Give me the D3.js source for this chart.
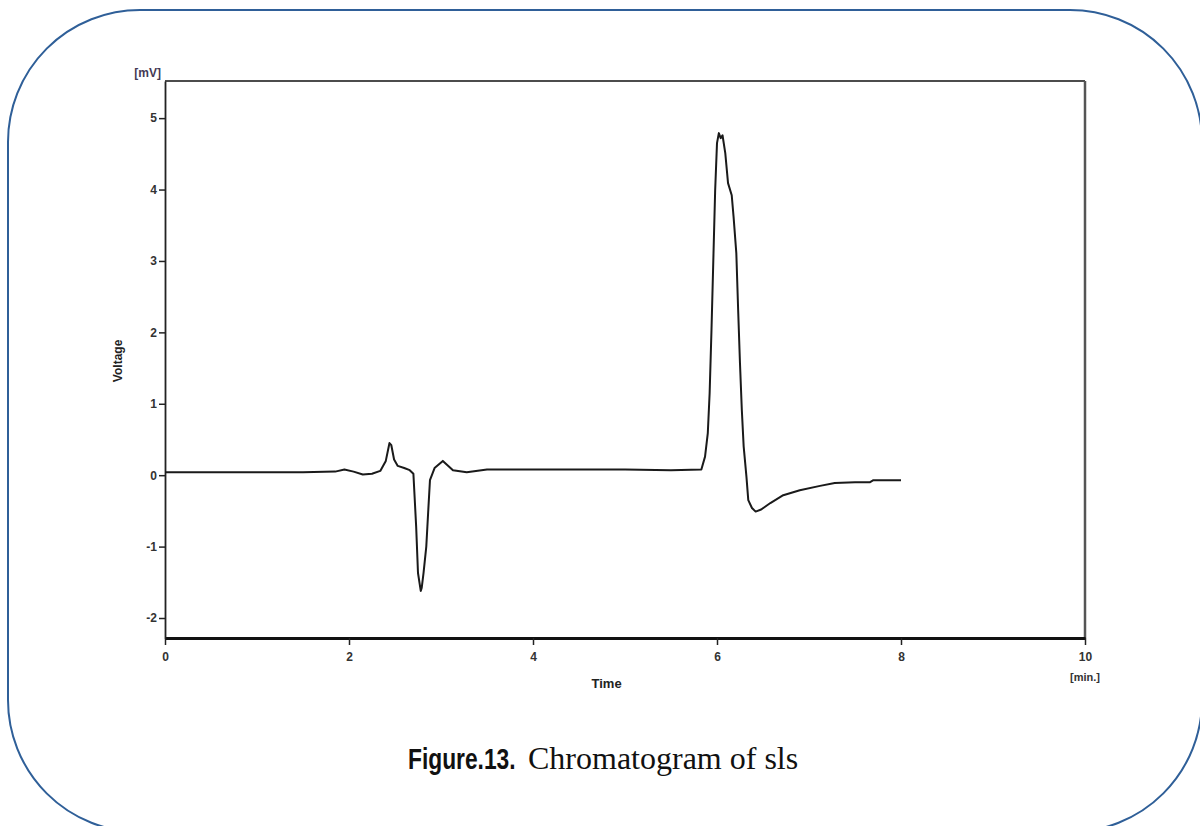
<!DOCTYPE html>
<html>
<head>
<meta charset="utf-8">
<script src="https://cdn.jsdelivr.net/npm/d3@7"></script>
<style>
  body { margin: 0; background: #fff; }
  svg text { font-family: "Liberation Sans", Arial, sans-serif; }
</style>
</head>
<body>
<div id="chart"></div>
<script>
// retention time (min) and detector voltage (mV)
var times = [0, 0.5, 1.0, 1.5, 1.85, 1.95, 2.05, 2.15, 2.25, 2.34, 2.40, 2.44, 2.46, 2.49, 2.53, 2.60, 2.66, 2.70,
  2.73, 2.75, 2.78, 2.79, 2.81, 2.84, 2.86, 2.88, 2.93, 3.02, 3.13, 3.28, 3.5, 4.0, 4.5, 5.0, 5.5, 5.83,
  5.87, 5.90, 5.92, 5.94, 5.96, 5.98, 6.00, 6.02, 6.04, 6.06, 6.09, 6.12, 6.16, 6.18, 6.21, 6.23, 6.25,
  6.27, 6.29, 6.32, 6.34, 6.38, 6.42, 6.48, 6.58, 6.72, 6.90, 7.12, 7.28, 7.5, 7.66, 7.70, 8.0];
var voltage = [0.04, 0.04, 0.04, 0.04, 0.05, 0.08, 0.05, 0.01, 0.02, 0.06, 0.2, 0.45, 0.42, 0.22, 0.13, 0.1, 0.07, 0.02,
  -0.72, -1.37, -1.62, -1.58, -1.37, -1.0, -0.53, -0.07, 0.1, 0.2, 0.07, 0.04, 0.08, 0.08, 0.08, 0.08, 0.07, 0.08,
  0.26, 0.59, 1.15, 2.03, 3.01, 3.99, 4.65, 4.79, 4.72, 4.76, 4.51, 4.09, 3.92, 3.62, 3.11, 2.31, 1.56,
  0.91, 0.4, -0.02, -0.35, -0.46, -0.51, -0.48, -0.39, -0.28, -0.21, -0.15, -0.11, -0.1, -0.1, -0.07, -0.07];

var xTicks = [0, 2, 4, 6, 8, 10];
var yTicks = [-2, -1, 0, 1, 2, 3, 4, 5];
var xDomain = [0, 10];
var yDomain = [-2.28, 5.52];

var caption = "Chromatogram of sls";
var captionBold = "Figure.13.";

var W = 1200, H = 826;
var margin = { top: 81, right: 115, bottom: 188, left: 165 },
  width = W - margin.left - margin.right,
  height = H - margin.top - margin.bottom;

var svg = d3.select("#chart").append("svg")
  .attr("width", W)
  .attr("height", H);

// rounded frame around the figure
svg.append("rect")
  .attr("x", 8).attr("y", 10)
  .attr("width", 1194).attr("height", 822)
  .attr("rx", 132).attr("ry", 132)
  .attr("fill", "none")
  .attr("stroke", "#2f5f98")
  .attr("stroke-width", 2);

var g = svg.append("g")
  .attr("transform", "translate(" + margin.left + "," + margin.top + ")");

var x = d3.scaleLinear().domain(xDomain).range([0, width]);
var y = d3.scaleLinear().domain(yDomain).range([height, 0]);

// top and right frame of the plot
g.append("line").attr("x1", 0).attr("x2", width).attr("y1", 0).attr("y2", 0)
  .attr("stroke", "#111").attr("stroke-width", 1.5);
g.append("line").attr("x1", width).attr("x2", width).attr("y1", 0).attr("y2", height)
  .attr("stroke", "#555").attr("stroke-width", 2.5);

// plain hyphen for negatives, like the original
var fmt = function (d) { return String(d); };

var xAxis = d3.axisBottom(x).tickValues(xTicks).tickSize(7).tickSizeOuter(0).tickFormat(fmt);
var yAxis = d3.axisLeft(y).tickValues(yTicks).tickSize(6).tickSizeOuter(0).tickFormat(fmt);

var gx = g.append("g")
  .attr("transform", "translate(0," + height + ")")
  .call(xAxis);
gx.select(".domain").attr("stroke", "#111").attr("stroke-width", 3);
gx.selectAll(".tick line").attr("stroke", "#222").attr("stroke-width", 1.5);
gx.selectAll(".tick text")
  .attr("dy", "1.1em")
  .style("font-size", "12px").style("font-weight", "bold").attr("fill", "#333");

var gy = g.append("g").call(yAxis);
gy.select(".domain").attr("stroke", "#222").attr("stroke-width", 1.8);
gy.selectAll(".tick line").attr("stroke", "#222").attr("stroke-width", 1.5);
gy.selectAll(".tick text")
  .attr("x", -8)
  .style("font-size", "12px").style("font-weight", "bold").attr("fill", "#333");

// units and axis titles
g.append("text").attr("x", -4).attr("y", -4).attr("text-anchor", "end")
  .style("font-size", "12px").style("font-weight", "bold").attr("fill", "#443a55")
  .text("[mV]");
g.append("text").attr("x", width).attr("y", height + 43).attr("text-anchor", "middle")
  .style("font-size", "11px").style("font-weight", "bold").attr("fill", "#333")
  .text("[min.]");
g.append("text").attr("x", x(4.8)).attr("y", height + 50).attr("text-anchor", "middle")
  .style("font-size", "13px").style("font-weight", "bold").attr("fill", "#222")
  .text("Time");
g.append("text")
  .attr("transform", "translate(-43," + y(1.6) + ") rotate(-90)")
  .attr("text-anchor", "middle")
  .style("font-size", "12px").style("font-weight", "bold").attr("fill", "#222")
  .text("Voltage");

var data = times.map(function (t, i) {
  return { t: t, v: voltage[i] };
});

var line = d3.line()
  .x(function (d) { return x(d.t); })
  .y(function (d) { return y(d.v); });

g.append("path")
  .datum(data)
  .attr("d", line)
  .attr("fill", "none")
  .attr("stroke", "#1a1a1a")
  .attr("stroke-width", 2)
  .attr("stroke-linejoin", "round");

// caption below the chart: condensed bold label + serif text
svg.append("text")
  .attr("transform", "translate(408,769) scale(0.76,1)")
  .style("font-size", "30px")
  .style("font-weight", "bold")
  .attr("fill", "#111")
  .text(captionBold);
svg.append("text")
  .attr("x", 528).attr("y", 769)
  .style("font-family", "'Liberation Serif', 'Times New Roman', serif")
  .style("font-size", "32px")
  .attr("fill", "#111")
  .text(caption);
</script>
</body>
</html>
